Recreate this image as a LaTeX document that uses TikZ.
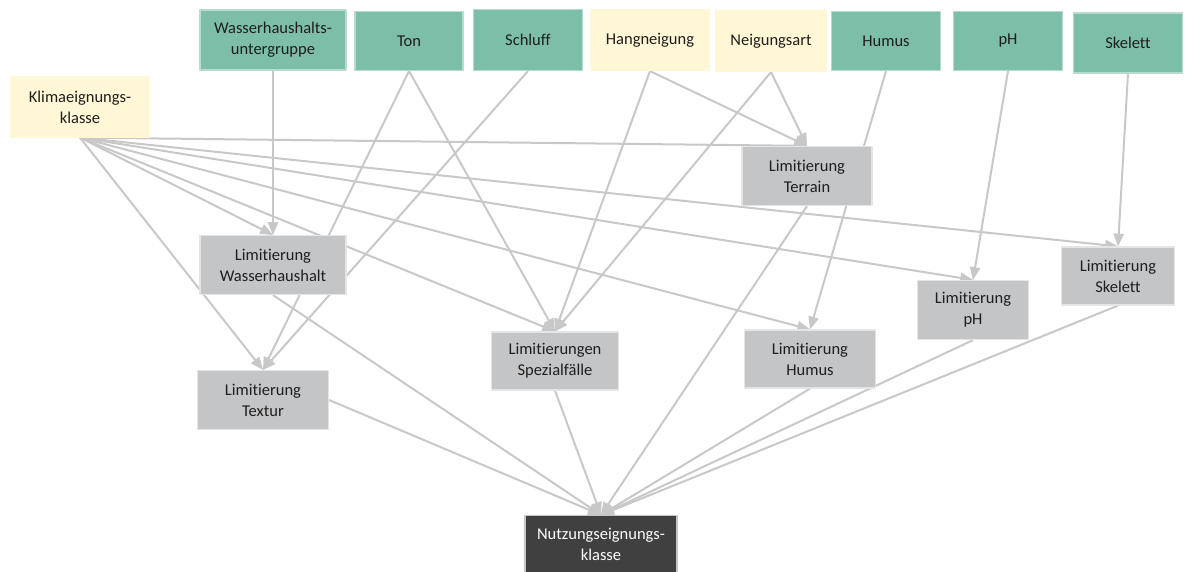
\documentclass[tikz,border=0pt]{standalone}
\usepackage{fontspec}
\setmainfont[Ligatures=NoCommon]{Carlito}
\usetikzlibrary{arrows,backgrounds}
\definecolor{soilgreen}{RGB}{125,190,168}
\definecolor{siteyellow}{RGB}{255,247,214}
\definecolor{limgrey}{RGB}{196,197,199}
\definecolor{resdark}{RGB}{64,64,64}
\definecolor{linkgrey}{RGB}{200,200,200}
\definecolor{txtgrey}{RGB}{30,30,30}
\begin{document}
\begin{tikzpicture}[line cap=round,line join=round,>=triangle 45,x=1pt,y=-1pt,
	box/.style={rectangle,inner sep=0pt,align=center,text=txtgrey,line width=1.2pt,
		font=\fontsize{16.5}{21}\selectfont},
	soil/.style={box,fill=soilgreen,draw=soilgreen!55!white},
	site/.style={box,fill=siteyellow,draw=siteyellow},
	lim/.style={box,fill=limgrey,draw=limgrey!45!white},
	res/.style={box,fill=resdark,draw=limgrey,text=white},
	link/.style={->,draw=linkgrey,line width=2pt}]
			\useasboundingbox (0,0) rectangle (1203,572);
			% inputs
			\node[soil,minimum width=146pt,minimum height=60pt] (whu) at (273,40) {Wasserhaushalts-\\untergruppe};
			\node[soil,minimum width=108pt,minimum height=59pt] (ton) at (409,41) {Ton};
			\node[soil,minimum width=109pt,minimum height=61pt] (schluff) at (528,40) {Schluff};
			\node[site,minimum width=119pt,minimum height=61pt] (hang) at (650,40) {Hangneigung};
			\node[site,minimum width=110pt,minimum height=61pt] (neig) at (771,41) {Neigungsart};
			\node[soil,minimum width=109pt,minimum height=59pt] (humus) at (886,41) {Humus};
			\node[soil,minimum width=109pt,minimum height=59pt] (ph) at (1008,41) {pH};
			\node[soil,minimum width=109pt,minimum height=60pt] (skel) at (1128,43) {Skelett};
			\node[site,minimum width=139pt,minimum height=60pt] (klima) at (80,107) {Klimaeignungs-\\klasse};
			% limitations
			\node[lim,minimum width=130pt,minimum height=59pt] (lterr) at (807,176) {Limitierung\\Terrain};
			\node[lim,minimum width=146pt,minimum height=59pt] (lwh) at (273,265) {Limitierung\\Wasserhaushalt};
			\node[lim,minimum width=127pt,minimum height=58pt] (lspez) at (555,361) {Limitierungen\\Spezialfälle};
			\node[lim,minimum width=131pt,minimum height=58pt] (lhum) at (810,359) {Limitierung\\Humus};
			\node[lim,minimum width=111pt,minimum height=59pt] (lph) at (973,310) {Limitierung\\pH};
			\node[lim,minimum width=113pt,minimum height=58pt] (lskel) at (1118,276) {Limitierung\\Skelett};
			\node[lim,minimum width=131pt,minimum height=59pt] (ltex) at (263,400) {Limitierung\\Textur};
			% result
			\node[res,minimum width=152pt,minimum height=57pt] (nutz) at (601,544) {Nutzungseignungs-\\klasse};
			\begin{scope}[on background layer]
			\draw[link] (klima.south)-- (lterr.north);
			\draw[link] (klima.south)-- (lwh.north);
			\draw[link] (klima.south)-- (ltex.north);
			\draw[link] (klima.south)-- (lspez.north);
			\draw[link] (klima.south)-- (lhum.north);
			\draw[link] (klima.south)-- (lph.north);
			\draw[link] (klima.south)-- (lskel.north);
			\draw[link] (whu.south)-- (lwh.north);
			\draw[link] (ton.south)-- (ltex.north);
			\draw[link] (ton.south)-- (lspez.north);
			\draw[link] (schluff.south)-- (ltex.north);
			\draw[link] (hang.south)-- (lterr.north);
			\draw[link] (hang.south)-- (lspez.north);
			\draw[link] (neig.south)-- (lterr.north);
			\draw[link] (neig.south)-- (lspez.north);
			\draw[link] (humus.south)-- (lhum.north);
			\draw[link] (ph.south)-- (lph.north);
			\draw[link] (skel.south)-- (lskel.north);
			\draw[link] (lwh.south)-- (nutz.north);
			\draw[link] (ltex.east)-- (nutz.north);
			\draw[link] (lspez.south)-- (nutz.north);
			\draw[link] (lterr.south)-- (nutz.north);
			\draw[link] (lhum.south)-- (nutz.north);
			\draw[link] (lph.south)-- (nutz.north);
			\draw[link] (lskel.south)-- (nutz.north);
			\end{scope}
\end{tikzpicture}
\end{document}
